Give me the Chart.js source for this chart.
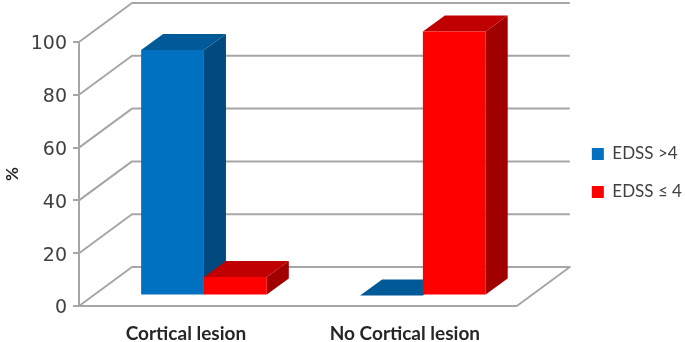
<!DOCTYPE html>
<html>
<head>
<meta charset="utf-8">
<title>EDSS by cortical lesion</title>
<script src="https://cdn.jsdelivr.net/npm/chart.js@4"></script>
<style>
  html, body { margin: 0; padding: 0; background: #fff; }
  canvas { display: block; }
</style>
</head>
<body>
<canvas id="lesionChart" width="685" height="342"></canvas>
<script>
// values
const categories = ["Cortical lesion", "No Cortical lesion"];
const seriesNames = ["EDSS >4", "EDSS \u2264 4"];
const edssHigh = [93, 0];
const edssLow = [7, 100];

const frontColors = ["#0070C0", "#FF0000"];
const sideColors = ["#004A80", "#A00000"];
const topColors = ["#005A98", "#C00000"];
const gridColor = "#A6A6A6";

// the 3d look: walls go back by wallDepth, bars stand part way in and are barDepth deep
const wallDepth = { x: 53, y: -39 };
const barShift = { x: 15.5, y: -10.5 };
const barDepth = { x: 22, y: -16 };

function poly(ctx, pts, color) {
    ctx.beginPath();
    pts.forEach((p, i) => i ? ctx.lineTo(p[0], p[1]) : ctx.moveTo(p[0], p[1]));
    ctx.closePath();
    ctx.fillStyle = color;
    ctx.fill();
}

const depthPlugin = {
    id: "depth",
    beforeDatasetsDraw(chart) {
        const { ctx, chartArea: area, scales } = chart;

        // side wall and back wall lines, one per y tick
        ctx.save();
        ctx.strokeStyle = gridColor;
        ctx.lineWidth = 2;
        ctx.lineJoin = "round";
        scales.y.ticks.forEach(t => {
            const y = scales.y.getPixelForValue(t.value);
            ctx.beginPath();
            ctx.moveTo(area.left, y);
            ctx.lineTo(area.left + wallDepth.x, y + wallDepth.y);
            ctx.lineTo(area.right + wallDepth.x, y + wallDepth.y);
            if (t.value === 0) ctx.lineTo(area.right, y);
            ctx.stroke();
        });
        ctx.restore();

        // chart.js paints the last dataset first, here the red bars must sit on top of the blue ones
        chart.data.datasets.forEach((ds, i) => {
            const meta = chart.getDatasetMeta(i);
            ctx.save();
            ctx.translate(barShift.x, barShift.y);
            meta.data.forEach(bar => {
                const l = bar.x - bar.width / 2, r = bar.x + bar.width / 2;
                const t = bar.y, b = bar.base;
                const dx = barDepth.x, dy = barDepth.y;
                poly(ctx, [[r, t], [r + dx, t + dy], [r + dx, b + dy], [r, b]], sideColors[i]);
                poly(ctx, [[l, t], [l + dx, t + dy], [r + dx, t + dy], [r, t]], topColors[i]);
            });
            meta.controller.draw();
            ctx.restore();
        });
        return false;
    }
};

new Chart(document.getElementById("lesionChart"), {
    type: "bar",
    data: {
        labels: categories,
        datasets: [
            { label: seriesNames[0], data: edssHigh, backgroundColor: frontColors[0] },
            { label: seriesNames[1], data: edssLow, backgroundColor: frontColors[1] }
        ]
    },
    options: {
        responsive: false,
        animation: false,
        layout: { padding: { top: 4 } },
        datasets: { bar: { categoryPercentage: 0.574, barPercentage: 1 } },
        plugins: {
            tooltip: { enabled: false },
            legend: {
                position: "right",
                labels: {
                    boxWidth: 12,
                    boxHeight: 12,
                    padding: 21,
                    color: "#404040",
                    font: { family: "Lato", size: 17 }
                }
            }
        },
        scales: {
            x: {
                afterFit: s => { s.height = 36; },
                grid: { display: false },
                border: { color: gridColor, width: 2 },
                ticks: {
                    padding: 8,
                    labelOffset: -2.5,
                    maxRotation: 0,
                    color: "#262626",
                    font: { family: "Lato", size: 19, weight: "bold" }
                }
            },
            y: {
                min: 0,
                max: 100,
                afterFit: s => { s.width = 79; },
                grid: { drawOnChartArea: false, tickLength: 6, color: gridColor, lineWidth: 2 },
                border: { color: gridColor, width: 2 },
                ticks: {
                    stepSize: 20,
                    padding: 6,
                    labelOffset: 2.5,
                    color: "#404040",
                    font: { family: "DejaVu Sans", size: 19 }
                },
                title: {
                    display: true,
                    text: "%",
                    color: "#262626",
                    padding: { top: 2, bottom: 0 },
                    font: { family: "Lato", size: 17, weight: "bold" }
                }
            },
            // empty axes, they only keep room for the walls around the plot
            room: {
                type: "linear",
                position: "right",
                afterFit: s => { s.width = 54; },
                grid: { display: false },
                border: { display: false },
                ticks: { display: false }
            },
            headroom: {
                type: "linear",
                axis: "x",
                position: "top",
                afterFit: s => { s.height = 38; },
                grid: { display: false },
                border: { display: false },
                ticks: { display: false }
            }
        }
    },
    plugins: [depthPlugin]
});
</script>
</body>
</html>
